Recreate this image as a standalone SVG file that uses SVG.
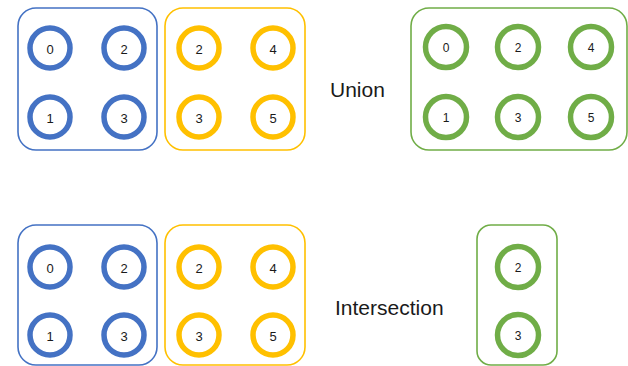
<svg xmlns="http://www.w3.org/2000/svg" width="628" height="366" viewBox="0 0 628 366">
<style>
.box{fill:none;stroke-width:1.6}
.ring{fill:#fff;stroke-width:5.5}
.b{stroke:#4472C4}.y{stroke:#FFC000}.g{stroke:#70AD47}
.d{font-family:"Liberation Sans",Arial,sans-serif;font-size:13px;fill:#1a1a1a;text-anchor:middle;dominant-baseline:central}
.dg{font-size:12px}
.lbl{font-family:"Liberation Sans",Arial,sans-serif;font-size:21px;fill:#1a1a1a}
</style>
<rect width="628" height="366" fill="#fff"/>
<g id="union-blue-set">
<rect class="box b" x="18" y="8" width="139" height="142" rx="18"/>
<circle class="ring b" cx="50" cy="48" r="20"/><text class="d" x="50" y="49">0</text>
<circle class="ring b" cx="124" cy="48" r="20"/><text class="d" x="124" y="49">2</text>
<circle class="ring b" cx="50" cy="117" r="20"/><text class="d" x="50" y="118">1</text>
<circle class="ring b" cx="124" cy="117" r="20"/><text class="d" x="124" y="118">3</text>
</g>
<g id="union-yellow-set">
<rect class="box y" x="165" y="8" width="140" height="142" rx="18"/>
<circle class="ring y" cx="199" cy="48" r="20"/><text class="d" x="199" y="49">2</text>
<circle class="ring y" cx="273" cy="48" r="20"/><text class="d" x="273" y="49">4</text>
<circle class="ring y" cx="199" cy="117" r="20"/><text class="d" x="199" y="118">3</text>
<circle class="ring y" cx="273" cy="117" r="20"/><text class="d" x="273" y="118">5</text>
</g>
<g id="union-label"><text class="lbl" x="330" y="97">Union</text></g>
<g id="union-result">
<rect class="box g" x="411" y="8" width="216" height="142" rx="18"/>
<circle class="ring g" cx="446" cy="47" r="20.5"/><text class="d dg" x="446" y="48">0</text>
<circle class="ring g" cx="518" cy="47" r="20.5"/><text class="d dg" x="518" y="48">2</text>
<circle class="ring g" cx="591" cy="47" r="20.5"/><text class="d dg" x="591" y="48">4</text>
<circle class="ring g" cx="446" cy="117" r="20.5"/><text class="d dg" x="446" y="118">1</text>
<circle class="ring g" cx="518" cy="117" r="20.5"/><text class="d dg" x="518" y="118">3</text>
<circle class="ring g" cx="591" cy="117" r="20.5"/><text class="d dg" x="591" y="118">5</text>
</g>
<g id="inter-blue-set">
<rect class="box b" x="18" y="225" width="139" height="140" rx="18"/>
<circle class="ring b" cx="50" cy="267" r="20"/><text class="d" x="50" y="268">0</text>
<circle class="ring b" cx="124" cy="267" r="20"/><text class="d" x="124" y="268">2</text>
<circle class="ring b" cx="50" cy="335" r="20"/><text class="d" x="50" y="336">1</text>
<circle class="ring b" cx="124" cy="335" r="20"/><text class="d" x="124" y="336">3</text>
</g>
<g id="inter-yellow-set">
<rect class="box y" x="165" y="225" width="140" height="140" rx="18"/>
<circle class="ring y" cx="199" cy="267" r="20"/><text class="d" x="199" y="268">2</text>
<circle class="ring y" cx="273" cy="267" r="20"/><text class="d" x="273" y="268">4</text>
<circle class="ring y" cx="199" cy="335" r="20"/><text class="d" x="199" y="336">3</text>
<circle class="ring y" cx="273" cy="335" r="20"/><text class="d" x="273" y="336">5</text>
</g>
<g id="inter-label"><text class="lbl" x="335" y="315">Intersection</text></g>
<g id="inter-result">
<rect class="box g" x="477" y="225" width="80" height="140" rx="14"/>
<circle class="ring g" cx="518" cy="267" r="20.5"/><text class="d dg" x="518" y="268">2</text>
<circle class="ring g" cx="518" cy="335" r="20.5"/><text class="d dg" x="518" y="336">3</text>
</g>
<g id="connectors"/>
</svg>
